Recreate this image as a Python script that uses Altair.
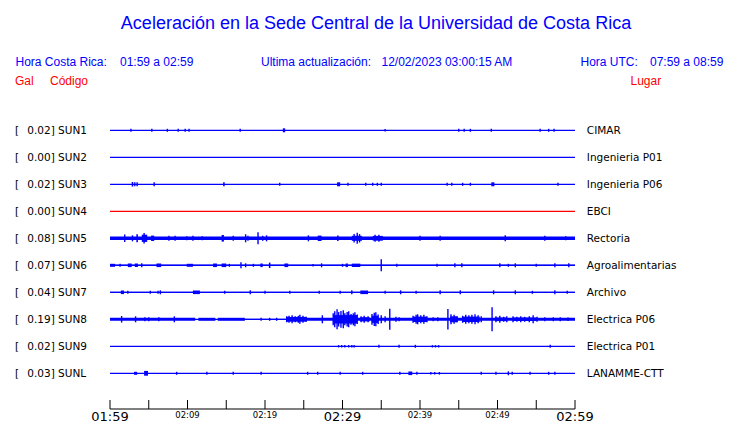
import altair as alt
import pandas as pd

# ---------------- text content ----------------
TITLE = "Aceleración en la Sede Central de la Universidad de Costa Rica"
CR_LABEL, CR_RANGE = "Hora Costa Rica:", "01:59 a 02:59"
UPD_LABEL, UPD_VALUE = "Ultima actualización:", "12/02/2023 03:00:15 AM"
UTC_LABEL, UTC_RANGE = "Hora UTC:", "07:59 a 08:59"
COL_GAL, COL_CODE, COL_PLACE = "Gal", "Código", "Lugar"

# ---------------- stations ----------------
CODES = ["SUN1", "SUN2", "SUN3", "SUN4", "SUN5", "SUN6", "SUN7", "SUN8", "SUN9", "SUNL"]
PEAKS = ["0.02", "0.00", "0.02", "0.00", "0.08", "0.07", "0.04", "0.19", "0.02", "0.03"]
PLACES = ["CIMAR", "Ingenieria P01", "Ingenieria P06", "EBCI", "Rectoria",
          "Agroalimentarias", "Archivo", "Electrica P06", "Electrica P01", "LANAMME-CTT"]

# ---------------- time axis (minutes after 01:59) ----------------
TICK_MINUTES = [0, 5, 10, 15, 20, 25, 30, 35, 40, 45, 50, 55, 60]
LABEL_MINUTES = [0, 10, 20, 30, 40, 50, 60]
TICK_LABELS = ["01:59", "02:09", "02:19", "02:29", "02:39", "02:49", "02:59"]
MAJOR_LABELS = ["01:59", "02:29", "02:59"]

# ---------------- waveform envelopes (Gal) ----------------
# background noise level: [t_start, t_end, half-amplitude]
NOISE = {
    "SUN5": [[0, 60, 0.028]],
    "SUN6": [[0, 60, 0.012]],
    "SUN7": [[0, 60, 0.010]],
    "SUN8": [[0, 11.0, 0.025], [11.4, 13.6, 0.025], [13.9, 17.4, 0.025],
             [17.4, 22.8, 0.008], [22.8, 60, 0.025]],
}
# isolated peaks: [t, half-amplitude]
SPIKES = {
    "SUN1": [[2.7, 0.025], [5.4, 0.025], [7.4, 0.025], [8.8, 0.025], [9.7, 0.025],
             [10.2, 0.025], [16.8, 0.025], [35.5, 0.02], [45.0, 0.025], [45.7, 0.025],
             [46.5, 0.025], [49.2, 0.025], [55.5, 0.025], [56.6, 0.025], [57.3, 0.025]],
    "SUN3": [[3.2, 0.033], [3.5, 0.033], [5.7, 0.033], [21.9, 0.025], [30.7, 0.025],
             [33.0, 0.025], [33.9, 0.025], [34.5, 0.025], [35.0, 0.025], [43.5, 0.025],
             [44.1, 0.025], [45.5, 0.025], [46.5, 0.025], [57.8, 0.025]],
    "SUN5": [[1.9, 0.062], [2.9, 0.05], [4.4, 0.088], [7.6, 0.042], [8.4, 0.042],
             [9.9, 0.033], [10.7, 0.042], [11.9, 0.033], [15.9, 0.042], [17.5, 0.067],
             [17.8, 0.042], [19.1, 0.1], [19.7, 0.042], [20.2, 0.05], [25.6, 0.05],
             [31.5, 0.07], [31.9, 0.092], [32.2, 0.07], [34.2, 0.058], [34.7, 0.058],
             [40.0, 0.042], [42.6, 0.042], [51.0, 0.05], [56.1, 0.042], [58.8, 0.033]],
    "SUN6": [[1.3, 0.025], [4.1, 0.033], [15.4, 0.025], [16.9, 0.05], [17.5, 0.033],
             [18.5, 0.025], [26.2, 0.02], [27.3, 0.033], [30.0, 0.025], [35.0, 0.1],
             [37.0, 0.025], [42.2, 0.025], [44.5, 0.033], [45.4, 0.033], [50.3, 0.033],
             [51.4, 0.025], [52.3, 0.033], [55.0, 0.025], [57.4, 0.033], [59.2, 0.033]],
    "SUN7": [[2.3, 0.025], [5.2, 0.025], [6.2, 0.025], [6.5, 0.033], [14.8, 0.025],
             [18.1, 0.033], [20.0, 0.025], [23.2, 0.025], [27.0, 0.025], [29.7, 0.025],
             [31.2, 0.033], [35.5, 0.025], [37.5, 0.033], [39.5, 0.025], [42.6, 0.033],
             [45.2, 0.033], [49.5, 0.033], [52.3, 0.033], [54.5, 0.025], [57.4, 0.033],
             [59.0, 0.025]],
    "SUN8": [[1.5, 0.055], [3.3, 0.05], [4.5, 0.033], [5.0, 0.033], [6.3, 0.033],
             [8.3, 0.05], [19.5, 0.025], [20.6, 0.025], [21.5, 0.025],
             [22.8, 0.05], [23.1, 0.058], [23.5, 0.067], [23.9, 0.05], [24.3, 0.058],
             [24.5, 0.075], [24.9, 0.058], [25.3, 0.042], [27.4, 0.067],
             [28.8, 0.1], [29.0, 0.133], [29.3, 0.167], [29.5, 0.12], [29.8, 0.14],
             [30.1, 0.15], [30.3, 0.1], [30.6, 0.12], [30.8, 0.133], [31.1, 0.09],
             [31.4, 0.1], [31.6, 0.117], [31.9, 0.08], [32.4, 0.05], [32.8, 0.058],
             [33.3, 0.05], [33.8, 0.09], [34.1, 0.11], [34.3, 0.117], [34.6, 0.08],
             [35.0, 0.067], [35.5, 0.05], [36.1, 0.175], [36.9, 0.042], [37.3, 0.033],
             [39.1, 0.058], [39.5, 0.075], [39.7, 0.083], [40.1, 0.067], [40.5, 0.075],
             [40.9, 0.05], [41.7, 0.033], [42.3, 0.033], [43.6, 0.17], [44.0, 0.083],
             [44.4, 0.075], [44.8, 0.05], [45.5, 0.058], [45.9, 0.075], [46.3, 0.067],
             [46.7, 0.075], [47.1, 0.083], [47.5, 0.067], [47.9, 0.05], [49.3, 0.2],
             [49.8, 0.05], [50.3, 0.058], [50.8, 0.042], [51.2, 0.05], [52.0, 0.05],
             [52.5, 0.042], [53.0, 0.05], [53.5, 0.042], [54.1, 0.05], [54.6, 0.067],
             [55.1, 0.042], [56.1, 0.033], [57.2, 0.033], [58.1, 0.033], [59.1, 0.03]],
    "SUN9": [[29.5, 0.02], [29.9, 0.02], [30.3, 0.02], [30.8, 0.02], [31.2, 0.02],
             [31.5, 0.02], [34.7, 0.025], [37.3, 0.025], [39.4, 0.025], [41.6, 0.02],
             [42.0, 0.02], [42.4, 0.02], [56.8, 0.025]],
    "SUNL": [[8.6, 0.025], [12.5, 0.025], [15.9, 0.025], [19.5, 0.025], [25.5, 0.025],
             [26.8, 0.025], [29.7, 0.025], [32.6, 0.025], [37.4, 0.025], [39.6, 0.025],
             [41.4, 0.022], [41.9, 0.022], [42.5, 0.022],
             [47.9, 0.025], [49.8, 0.025], [51.4, 0.033], [51.9, 0.025], [54.2, 0.025],
             [56.6, 0.025], [57.4, 0.025]],
}
# sustained bursts: [t_start, t_end, half-amplitude]
BURSTS = {
    "SUN1": [[22.3, 22.6, 0.033]],
    "SUN3": [[2.8, 3.0, 0.038], [14.6, 14.8, 0.033], [29.3, 29.7, 0.033], [49.2, 49.6, 0.033]],
    "SUN5": [[3.4, 3.6, 0.067], [4.1, 4.8, 0.06], [5.3, 5.7, 0.045], [14.4, 14.7, 0.055],
             [26.8, 27.3, 0.045], [29.3, 29.5, 0.045], [31.2, 32.5, 0.042], [33.9, 35.2, 0.04]],
    "SUN6": [[0.0, 0.65, 0.025], [2.3, 2.8, 0.03], [3.2, 3.6, 0.03], [6.0, 6.6, 0.03],
             [9.9, 10.7, 0.025], [13.3, 13.8, 0.03], [14.4, 15.0, 0.03], [19.4, 19.7, 0.03],
             [20.5, 20.7, 0.045], [22.5, 23.0, 0.03], [30.4, 30.7, 0.03], [31.2, 32.3, 0.028]],
    "SUN7": [[1.4, 1.8, 0.03], [10.7, 11.6, 0.03], [32.3, 33.3, 0.03]],
    "SUN8": [[22.8, 25.4, 0.04], [28.8, 31.9, 0.07], [32.3, 33.5, 0.035], [33.8, 34.6, 0.06],
             [39.1, 40.9, 0.045], [43.9, 44.8, 0.05], [45.5, 47.7, 0.045], [49.7, 51.2, 0.03],
             [52.0, 55.1, 0.03]],
    "SUNL": [[3.1, 3.5, 0.025], [4.4, 4.9, 0.04], [38.5, 39.0, 0.03]],
}

# ---------------- layout constants ----------------
BLUE = "#0000ff"
RED = "#ff0000"
ROWS_PER_GAL = 60.0 / 27.0
SANS = "Liberation Sans"
DJ = "DejaVu Sans"

X = alt.Scale(domain=[0, 60], range=[102, 567])
Y = alt.Scale(domain=[0, 9], range=[122.3, 365.3])

row_of = {c: i for i, c in enumerate(CODES)}

stations = pd.DataFrame({
    "code": CODES,
    "row": list(range(len(CODES))),
    "label": [f"{p}] {c}" for p, c in zip(PEAKS, CODES)],
    "place": PLACES,
    "t0": [0] * len(CODES),
    "t1": [60] * len(CODES),
})

def rows_from(d, cols):
    out = []
    for c, items in d.items():
        for it in items:
            rec = dict(zip(cols, it))
            rec["code"] = c
            rec["row"] = row_of[c]
            out.append(rec)
    return pd.DataFrame(out)

noise_df = rows_from(NOISE, ["t0", "t1", "a"])
spike_df = rows_from(SPIKES, ["t", "a"])
burst_df = rows_from(BURSTS, ["t0", "t1", "a"])

color_enc = alt.condition(alt.datum.code == "SUN4", alt.value(RED), alt.value(BLUE))

def envelope_calc(ch):
    return ch.transform_calculate(
        ytop=f"datum.row - datum.a * {ROWS_PER_GAL}",
        ybot=f"datum.row + datum.a * {ROWS_PER_GAL}",
    )

baseline = alt.Chart(stations).mark_rule(strokeWidth=1.2).encode(
    x=alt.X("t0:Q", scale=X, axis=None),
    x2="t1:Q",
    y=alt.Y("row:Q", scale=Y, axis=None),
    color=color_enc,
)

noise = envelope_calc(alt.Chart(noise_df).mark_rect(color=BLUE)).encode(
    x=alt.X("t0:Q", scale=X, axis=None),
    x2="t1:Q",
    y=alt.Y("ytop:Q", scale=Y, axis=None),
    y2="ybot:Q",
)

bursts = envelope_calc(alt.Chart(burst_df).mark_rect(color=BLUE)).encode(
    x=alt.X("t0:Q", scale=X, axis=None),
    x2="t1:Q",
    y=alt.Y("ytop:Q", scale=Y, axis=None),
    y2="ybot:Q",
)

spikes = envelope_calc(alt.Chart(spike_df).mark_rule(color=BLUE, strokeWidth=1.4)).encode(
    x=alt.X("t:Q", scale=X, axis=None),
    y=alt.Y("ytop:Q", scale=Y, axis=None),
    y2="ybot:Q",
)

row_text = dict(baseline="alphabetic", dy=4, font=DJ, fontSize=10.5, color="black")
bracket = alt.Chart(stations).mark_text(align="left", **row_text).encode(
    x=alt.value(7), y=alt.Y("row:Q", scale=Y, axis=None), text=alt.value("["))
labels = alt.Chart(stations).mark_text(align="left", **row_text).encode(
    x=alt.value(19.3), y=alt.Y("row:Q", scale=Y, axis=None), text="label:N")
places = alt.Chart(stations).mark_text(align="left", **row_text).encode(
    x=alt.value(578.8), y=alt.Y("row:Q", scale=Y, axis=None), text="place:N")

# time axis
ticks_df = pd.DataFrame({"t": TICK_MINUTES})
axis_line = alt.Chart(stations.head(1)).mark_rule(color="black", strokeWidth=1).encode(
    x=alt.X("t0:Q", scale=X, axis=None), x2="t1:Q", y=alt.value(401))
ticks = alt.Chart(ticks_df).mark_rule(color="black", strokeWidth=1).encode(
    x=alt.X("t:Q", scale=X, axis=None), y=alt.value(392), y2=alt.value(401))
lab_df = pd.DataFrame({"t": LABEL_MINUTES, "lab": TICK_LABELS,
                       "major": [l in MAJOR_LABELS for l in TICK_LABELS]})
major_lab = alt.Chart(lab_df).transform_filter("datum.major").mark_text(
    align="center", baseline="alphabetic", font=DJ, fontSize=13, color="black").encode(
    x=alt.X("t:Q", scale=X, axis=None), y=alt.value(413.2), text="lab:N")
minor_lab = alt.Chart(lab_df).transform_filter("!datum.major").mark_text(
    align="center", baseline="alphabetic", font=DJ, fontSize=8.5, color="black").encode(
    x=alt.X("t:Q", scale=X, axis=None), y=alt.value(409.5), text="lab:N")

def txt(s, x, y, size=12, color=BLUE, align="left", font=SANS):
    return alt.Chart(pd.DataFrame({"s": [s]})).mark_text(
        align=align, baseline="alphabetic", font=font, fontSize=size, color=color
    ).encode(x=alt.value(x), y=alt.value(y), text="s:N")

headers = [
    txt(TITLE, 368, 21, size=18, align="center"),
    txt(CR_LABEL, 7.5, 57.5), txt(CR_RANGE, 112, 57.5),
    txt(UPD_LABEL, 253, 57.5), txt(UPD_VALUE, 373.5, 57.5),
    txt(UTC_LABEL, 572.5, 57.5), txt(UTC_RANGE, 642, 57.5),
    txt(COL_GAL, 7, 77, color=RED), txt(COL_CODE, 42, 77, color=RED),
    txt(COL_PLACE, 622.5, 77, color=RED),
]

chart = alt.layer(
    noise, bursts, baseline, spikes, bracket, labels, places,
    axis_line, ticks, major_lab, minor_lab, *headers
).properties(
    width=724, height=415,
    autosize=alt.AutoSizeParams(type="none"),
    padding=0, background="white",
).configure_view(stroke=None)

chart.save("out.html", embed_options={"renderer": "svg", "actions": False})
